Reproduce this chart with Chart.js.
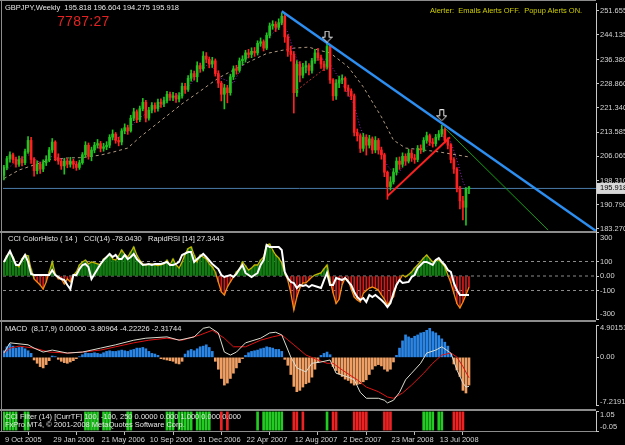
<!DOCTYPE html>
<html><head><meta charset="utf-8">
<script src="https://cdn.jsdelivr.net/npm/chart.js@4.4.0/dist/chart.umd.min.js"></script>
<style>
html,body{margin:0;padding:0;background:#000;}
#wrap{position:relative;width:625px;height:445px;background:#000;overflow:hidden;font-family:'Liberation Sans',Arial,sans-serif;}
canvas{position:absolute;left:0;}
.t{position:absolute;white-space:pre;font-size:7.5px;line-height:10px;color:#e6e6e6;z-index:5;}
.sep{position:absolute;background:#8c8c8c;z-index:4;}
</style></head><body>
<div id="wrap">
<canvas id="cMain" width="625" height="232" style="top:0px"></canvas>
<canvas id="cCci" width="625" height="91" style="top:231px"></canvas>
<canvas id="cMacd" width="625" height="88" style="top:321px"></canvas>
<canvas id="cFilt" width="625" height="36" style="top:409px"></canvas>
<div class="sep" style="left:0;top:0;width:596px;height:1px"></div>
<div class="sep" style="left:1px;top:0;width:1px;height:431px"></div>
<div class="sep" style="left:0;top:231px;width:596px;height:2px"></div>
<div class="sep" style="left:0;top:320px;width:596px;height:2px"></div>
<div class="sep" style="left:0;top:409px;width:596px;height:2px"></div>
<div class="sep" style="left:0;top:431px;width:596px;height:1px"></div>
<div class="t" style="left:5px;top:3px">GBPJPY,Weekly  195.818 196.604 194.275 195.918</div>
<div class="t" style="left:57px;top:13px;font-size:14px;line-height:16px;color:#e42222;letter-spacing:0.3px">7787:27</div>
<div class="t" style="left:430px;top:6px;color:#cccc00">Alerter:  Emails Alerts OFF.  Popup Alerts ON.</div>
<div class="t" style="left:8px;top:234px">CCI ColorHisto ( 14 )   CCI(14) -78.0430   RapidRSI [14] 27.3443</div>
<div class="t" style="left:5px;top:324px">MACD  (8,17,9) 0.00000 -3.80964 -4.22226 -2.31744</div>
<div class="t" style="left:5px;top:412px">CCI Filter (14) [CurrTF] 100, -100, 250 0.0000 0.000 1.000 0.000 0.000</div>
<div class="t" style="left:5px;top:420px">FxPro MT4, © 2001-2008 MetaQuotes Software Corp.</div>
</div>
<script>
// ---------------- DATA ----------------
const dateLabels = ['9 Oct 2005','29 Jan 2006','21 May 2006','10 Sep 2006','31 Dec 2006','22 Apr 2007','12 Aug 2007','2 Dec 2007','23 Mar 2008','13 Jul 2008'];
const dateTickBars = [0,16,32,48,64,80,96,112,128,144];
const priceTicks = [251.655,244.135,236.380,228.860,221.340,213.585,206.065,198.310,190.790,183.270];
const lastPrice = 195.918;

const opens = [200.0,202.5,205.3,206.5,205.0,203.5,205.0,204.0,207.5,211.0,
 205.0,201.5,203.5,202.0,204.0,205.0,208.0,210.5,205.5,204.5,
 203.0,204.5,203.5,204.5,203.5,202.5,204.0,206.5,209.5,206.0,
 208.0,209.5,210.0,208.5,209.0,209.5,212.0,213.0,211.0,210.5,
 214.0,215.0,214.0,218.0,220.0,217.5,221.0,223.0,218.0,220.5,
 222.0,221.0,223.0,222.5,223.5,225.5,224.5,225.0,224.0,225.0,
 228.0,227.0,230.5,232.0,231.0,234.5,233.5,237.5,236.5,235.0,
 236.0,232.0,229.0,225.5,227.5,226.0,231.0,233.5,233.0,236.0,
 236.5,238.5,238.0,239.0,238.5,241.5,242.0,240.0,244.0,247.0,
 247.5,246.5,248.0,250.0,243.5,239.0,238.0,226.0,235.0,231.5,
 234.0,234.5,233.0,236.0,238.5,237.0,235.0,234.0,240.5,230.0,
 225.0,229.0,230.0,230.5,227.5,226.5,225.0,213.5,212.5,208.5,
 212.0,209.5,211.5,208.0,211.0,208.0,206.5,201.0,196.5,198.0,
 201.0,204.5,203.5,206.0,204.5,207.0,205.5,205.0,208.5,208.0,
 211.0,212.5,210.5,210.0,212.0,213.0,214.5,211.0,209.5,205.0,
 202.0,196.0,192.0,190.0,195.818];
const highs = [203.2,206.0,207.4,207.0,205.8,206.1,205.9,208.3,212.2,212.0,
 205.6,204.6,204.2,204.9,206.2,208.8,211.6,210.9,206.8,205.2,
 205.4,205.3,205.7,205.1,204.4,204.8,207.2,210.6,210.2,208.9,
 210.4,211.3,210.7,210.1,210.6,212.8,214.3,213.5,212.0,214.7,
 216.2,215.8,218.9,221.1,220.6,221.8,224.2,223.6,221.4,222.9,
 222.8,224.0,224.1,224.6,226.4,226.2,226.1,225.8,226.0,229.0,
 228.9,231.4,233.1,232.8,235.7,235.3,238.9,238.6,237.2,237.1,
 236.6,232.9,229.6,228.6,228.3,231.8,234.4,234.6,236.9,237.6,
 239.3,239.6,240.1,240.2,242.3,243.2,242.6,244.8,247.9,248.6,
 248.3,249.2,251.1,250.6,244.2,240.6,238.9,236.1,235.8,235.2,
 235.9,235.1,236.8,239.6,239.9,237.8,235.9,241.6,241.0,230.4,
 230.1,231.2,231.6,231.0,228.4,227.2,225.6,214.6,213.1,213.2,
 212.8,212.6,212.1,212.2,211.6,208.9,207.0,201.4,199.6,202.2,
 205.6,205.8,207.1,206.8,208.2,208.1,206.6,209.4,209.6,211.9,
 213.6,213.0,211.6,212.9,214.1,215.8,215.0,211.8,210.0,205.6,
 202.5,196.6,193.4,196.2,196.604];
const lows = [198.6,201.8,204.2,203.9,202.6,202.8,203.0,203.4,206.9,203.8,
 199.8,200.5,200.6,201.2,203.1,204.3,207.2,204.6,203.5,201.9,
 200.4,202.4,202.6,202.2,201.6,201.9,203.5,205.8,205.1,204.6,
 207.1,208.6,207.4,207.6,208.1,208.7,211.2,210.1,209.3,209.6,
 213.1,212.9,213.6,217.2,216.6,216.9,220.3,216.8,217.4,219.6,
 219.9,220.2,221.4,221.6,222.8,223.6,223.5,222.9,223.1,224.3,
 225.8,226.4,229.6,229.9,229.4,232.4,232.8,235.4,233.8,233.9,
 231.2,227.6,223.4,220.9,222.8,225.2,230.1,231.8,232.4,234.8,
 235.6,236.9,237.0,237.4,237.8,240.6,239.1,239.5,243.2,245.9,
 245.2,245.8,247.3,241.8,237.4,235.9,219.6,224.8,229.4,230.6,
 232.2,231.6,232.1,235.2,236.1,233.6,232.9,233.4,228.9,223.6,
 223.9,227.6,228.8,226.4,224.9,223.8,212.4,210.8,207.2,207.6,
 206.4,208.6,206.9,207.1,206.7,205.1,199.6,192.5,195.4,197.3,
 200.2,201.9,202.6,203.2,203.9,204.4,203.8,204.3,206.9,207.4,
 210.1,209.4,208.9,209.2,211.1,212.2,210.2,208.3,203.9,200.6,
 194.8,189.5,186.0,184.4,194.275];
const closes = [202.5,205.3,206.5,205.0,203.5,205.0,204.0,207.5,211.0,205.0,
 201.5,203.5,202.0,204.0,205.0,208.0,210.5,205.5,204.5,203.0,
 204.5,203.5,204.5,203.5,202.5,204.0,206.5,209.5,206.0,208.0,
 209.5,210.0,208.5,209.0,209.5,212.0,213.0,211.0,210.5,214.0,
 215.0,214.0,218.0,220.0,217.5,221.0,223.0,218.0,220.5,222.0,
 221.0,223.0,222.5,223.5,225.5,224.5,225.0,224.0,225.0,228.0,
 227.0,230.5,232.0,231.0,234.5,233.5,237.5,236.5,235.0,236.0,
 232.0,229.0,225.5,227.5,226.0,231.0,233.5,233.0,236.0,236.5,
 238.5,238.0,239.0,238.5,241.5,242.0,240.0,244.0,247.0,247.5,
 246.5,248.0,250.0,243.5,239.0,238.0,226.0,235.0,231.5,234.0,
 234.5,233.0,236.0,238.5,237.0,235.0,234.0,240.5,230.0,225.0,
 229.0,230.0,230.5,227.5,226.5,225.0,213.5,212.5,208.5,212.0,
 209.5,211.5,208.0,211.0,208.0,206.5,201.0,196.5,198.0,201.0,
 204.5,203.5,206.0,204.5,207.0,205.5,205.0,208.5,208.0,211.0,
 212.5,210.5,210.0,212.0,213.0,214.5,211.0,209.5,205.0,202.0,
 196.0,192.0,190.0,195.818,195.918];

// moving averages read at sampled bars [bar, price]
const maSlow = [[0,199.0],[5,201.7],[10,203.3],[15,204.9],[21,205.5],[26,205.6],[32,206.4],[36,207.3],[41,208.6],[45,212.0],[49,215.0],[55,219.5],[59,222.5],[65,226.5],[71,230.6],[76,233.1],[81,235.6],[87,238.3],[91,239.1],[96,240.0],[101,240.3],[104,239.4],[108,238.5],[114,234.1],[119,227.8],[125,218.4],[129,211.1],[133,208.6],[139,208.0],[144,207.4],[154,205.8]];
const maFast = [[0,201],[4,204.5],[8,206.5],[12,204],[16,206],[20,205],[24,203.5],[28,207],[32,209],[36,211],[40,213],[44,217.5],[48,220],[52,222],[56,224.5],[60,226.5],[64,231.5],[68,235.5],[72,230.5],[76,229],[80,236.5],[84,239.5],[88,243.5],[92,248],[94,245],[96,239],[98,234],[100,233],[104,236.5],[107,236.5],[109,233.5],[112,229],[116,222],[118,215],[120,211],[124,209.5],[127,203],[130,200],[134,205],[138,207],[142,211],[145,212.5],[148,210.5],[150,205],[152,198],[154,194]];
// drawn objects [bar, price]
const blueTrend = [[92,251.6],[196,182.6]];
const greenTrend = [[146,214.9],[180.2,182.85]];
const redTrend = [[127,193.5],[147.7,212.0]];
const redDotTrend = [[97,226.8],[107,234.1]];
const arrowMarks = [[107,243.6],[145,218.9]];

// CCI panel
const cciTicks = [300,100,0,-100,-300];
const cciTickLabels = ['300','100','0.00','-100','-300'];
const cciLevels = [100,0,-100];
const cci = [97,140,165,131,80,62,120,145,140,48,
 -21,-41,-62,-90,-41,28,97,14,-20,-20,
 -55,-20,-41,7,28,76,97,110,83,97,
 90,83,76,117,131,152,117,110,140,179,
 150,131,165,200,145,110,83,76,80,83,
 76,72,76,83,110,76,117,76,55,97,
 150,190,200,145,97,145,131,117,83,62,
 28,-41,-110,-131,-76,-41,-7,28,48,97,
 70,41,55,76,76,110,131,214,220,179,
 145,124,90,20,-28,-117,-234,-145,-83,-48,
 -48,-28,-7,7,14,21,50,76,-28,-117,
 -190,-160,-60,-14,-30,-90,-145,-165,-179,-120,
 -100,-83,-76,-85,-97,-130,-160,-200,-170,-145,
 -62,-28,7,-7,10,28,55,76,100,125,
 145,120,97,110,110,90,62,7,-48,-120,
 -190,-220,-179,-131,-78];
const rapidRsi = [[0,97],[2,172],[4,76],[5,76],[7,145],[8,97],[9,14],[10,7],[14,7],[15,7],[16,41],[17,7],[19,-21],[20,-28],[21,-62],[22,-90],[23,7],[24,7],[25,48],[26,76],[27,83],[28,62],[29,-21],[31,48],[32,83],[33,110],[35,152],[36,131],[37,145],[38,117],[39,117],[40,145],[41,117],[42,131],[43,152],[44,117],[45,97],[46,76],[48,83],[49,76],[50,83],[52,83],[54,97],[55,76],[56,76],[57,83],[58,97],[59,145],[61,165],[62,165],[63,97],[64,117],[66,152],[67,131],[69,83],[71,48],[72,7],[73,-7],[75,7],[76,-7],[77,14],[78,48],[79,76],[80,21],[82,-7],[84,21],[85,76],[86,110],[87,214],[88,200],[90,200],[91,200],[92,179],[93,28],[94,-14],[95,-41],[96,-48],[97,-83],[98,-62],[99,-69],[100,-62],[101,-76],[102,-62],[104,-76],[105,-83],[106,-28],[107,21],[108,-62],[109,-62],[110,-14],[112,-28],[113,-14],[115,-62],[116,-110],[117,-145],[118,-166],[119,-152],[120,-179],[121,-131],[122,-145],[123,-131],[125,-166],[126,-186],[127,-214],[128,-186],[129,-117],[130,-62],[131,-28],[132,-48],[134,-41],[135,-7],[136,7],[137,55],[138,76],[139,97],[140,97],[142,76],[143,110],[144,124],[145,97],[146,76],[147,41],[148,28],[149,-48],[150,-97],[151,-131],[152,-131],[154,-131]];

// MACD panel
const macdTicks = [4.90151,0,-7.2191];
const macdTickLabels = ['4.90151','0.00','-7.2191'];
const macdHist = [1.0,1.6,2.0,1.7,1.4,1.5,1.6,1.3,1.0,0.6,
 -0.4,-0.9,-1.4,-1.6,-1.1,-0.5,0.2,0.1,-0.3,-0.6,
 -0.8,-0.9,-0.7,-0.5,-0.2,0.1,0.4,0.7,0.6,0.6,
 0.7,0.6,0.5,0.7,0.9,1.0,0.9,0.9,1.0,1.1,
 1.0,0.9,1.1,1.2,1.4,1.4,1.5,1.3,0.9,0.6,
 0.5,0.3,-0.2,-0.3,-0.4,-0.5,-0.6,-0.9,-1.0,-0.6,
 0.5,1.0,1.2,1.0,1.3,1.6,1.7,1.9,1.5,0.9,
 -0.6,-1.8,-3.2,-4.2,-3.9,-3.2,-2.4,-1.6,-0.8,-0.2,
 0.3,0.7,0.9,1.0,1.1,1.3,1.4,1.6,1.5,1.4,
 1.2,1.2,0.9,-0.3,-1.2,-2.6,-4.4,-5.2,-5.0,-4.5,
 -4.0,-3.8,-3.0,-1.8,-0.8,0.3,0.6,0.8,0.4,-1.4,
 -2.0,-2.5,-2.9,-3.3,-3.5,-3.9,-4.2,-4.1,-4.0,-3.7,
 -3.4,-2.6,-1.8,-1.3,-1.1,-1.3,-1.8,-2.1,-1.8,-0.7,
 0.3,1.4,2.5,3.4,3.1,2.9,3.2,3.4,3.7,3.8,
 4.1,4.4,3.9,3.7,3.3,2.8,2.3,1.7,0.6,-1.0,
 -1.9,-2.9,-5.0,-5.4,-4.2];
const macdMain = [[0,0.65],[2,2.2],[8,1.9],[10,1.4],[13,0.8],[16,1.1],[21,0.65],[26,0.8],[32,1.4],[37,1.9],[43,2.6],[47,2.9],[54,3.1],[58,2.6],[63,3.1],[66,4.4],[68,4.6],[71,3.7],[73,0.8],[75,0.35],[77,0.8],[80,2.2],[85,2.9],[88,3.7],[90,3.8],[92,3.4],[95,0.05],[97,-1.6],[100,-2.2],[102,-0.9],[105,-0.7],[108,-0.4],[110,-2.4],[114,-3.0],[116,-3.4],[118,-5.3],[120,-6.2],[124,-6.2],[126,-6.5],[127,-6.9],[129,-6.5],[131,-5.3],[133,-3.4],[135,-2.4],[138,-0.9],[140,0.65],[143,1.1],[145,1.6],[148,0.65],[150,-1.9],[152,-3.9],[153,-4.5],[154,-4.4]];
const macdSignal = [[0,0.65],[2,1.4],[5,1.7],[10,1.4],[15,0.8],[21,0.65],[26,0.8],[32,1.1],[37,1.6],[43,2.2],[48,2.6],[54,2.9],[59,2.6],[65,3.4],[69,4.1],[73,2.9],[76,1.6],[80,1.6],[85,2.6],[89,3.1],[92,3.4],[96,1.9],[100,0.35],[104,-0.4],[107,-0.9],[109,-0.9],[112,-1.9],[117,-3.4],[120,-4.5],[124,-5.2],[127,-6.0],[129,-6.2],[132,-5.4],[135,-4.2],[139,-2.4],[142,-0.9],[145,0.35],[148,0.65],[150,0.05],[152,-1.4],[154,-3.1]];

// CCI Filter panel: 1 = green, -1 = red, 0 = none
const filterTicks = [1.05,-0.05];
const filterTickLabels = ['1.05','-0.05'];
const filterState = [1,1,1,1,1,0,0,1,1,0,
 0,0,0,0,0,0,0,0,0,0,
 0,0,0,0,0,0,0,1,1,1,
 1,1,0,1,1,1,0,0,0,0,
 0,1,1,0,0,0,0,0,0,0,
 0,0,0,0,1,1,1,0,1,1,
 1,1,1,0,1,1,1,1,1,0,
 0,0,-1,0,-1,0,0,0,0,0,
 0,0,0,0,1,0,1,1,1,1,
 1,1,1,0,0,0,-1,-1,0,-1,
 0,0,0,0,0,0,0,1,0,-1,
 -1,0,0,0,0,0,-1,-1,-1,-1,
 -1,0,0,0,0,0,-1,-1,-1,0,
 0,0,0,0,0,0,0,0,0,1,
 1,1,1,0,1,1,0,0,0,-1,
 -1,-1,-1,0,0];

// ---------------- STYLE / HELPERS ----------------
const X_MIN = -0.3, X_MAX = 196.06, AXIS_W = 29;
const AX = '#d4d4d4';
Chart.defaults.font.family = "'Liberation Sans', Arial, sans-serif";
Chart.defaults.font.size = 7.5;
Chart.defaults.color = AX;
const pts = arr => arr.map(([x,y]) => ({x, y}));
const bars = closes.map((_, i) => i);

function xScale(show){
  return {type:'linear', min:X_MIN, max:X_MAX, offset:false, display:show, position:'bottom',
    grid:{display:show, drawOnChartArea:false, drawTicks:true, tickLength:4, color:'#bbbbbb'},
    border:{display:false},
    afterBuildTicks: s => { s.ticks = dateTickBars.map(v => ({value:v})); },
    afterFit: s => { s.height = show ? 14 : 0; s.paddingLeft = 0; s.paddingRight = 0; },
    ticks:{autoSkip:false, maxRotation:0, align:'start', padding:0, labelOffset:1, color:AX,
      callback:(v, i) => dateLabels[i]}
  };
}
function yScale(min, max, tickVals, labelFn, lineH, extra){
  return Object.assign({position:'right', min, max,
    afterBuildTicks: s => { s.ticks = tickVals.slice().sort((a,b)=>a-b).map(v => ({value:v})); },
    afterFit: s => { s.width = AXIS_W; s.paddingTop = 0; s.paddingBottom = 0; },
    grid:{drawOnChartArea:false, drawTicks:true, tickLength:3, color:'#c8c8c8'},
    border:{display:true, color:'#c8c8c8', width:1},
    ticks:{autoSkip:false, padding:1, color:AX, font:{size:7.5, lineHeight:lineH}, callback:labelFn}
  }, extra || {});
}
function edgeLabel(tickVals, labels){
  const top = Math.max(...tickVals), bot = Math.min(...tickVals);
  return (v) => {
    const k = tickVals.indexOf(v); const t = labels[k];
    if (v === top) return ['', t];
    if (v === bot) return [t, ''];
    return t;
  };
}
function lineDs(data, color, width, order, dash){
  return {type:'line', data, borderColor:color, borderWidth:width, pointRadius:0, fill:false,
    tension:0, order, borderDash:dash || [], spanGaps:true};
}
const baseOpts = (pad) => ({responsive:false, animation:false, events:[],
  layout:{padding:pad, autoPadding:false}, plugins:{legend:{display:false}, tooltip:{enabled:false}}});

function makeArrow(){
  const c = document.createElement('canvas'); c.width = 11; c.height = 12;
  const g = c.getContext('2d'); g.strokeStyle = '#e8e8e8'; g.lineWidth = 1;
  g.beginPath(); g.moveTo(3.5,0.5); g.lineTo(7.5,0.5); g.lineTo(7.5,6.5); g.lineTo(10.5,6.5);
  g.lineTo(5.5,11.5); g.lineTo(0.5,6.5); g.lineTo(3.5,6.5); g.closePath(); g.stroke();
  return c;
}

// ---------------- MAIN PRICE CHART ----------------
const UP = '#1fc41f', DN = '#ff2020';
const candleCol = bars.map(i => closes[i] >= opens[i] ? UP : DN);
const mainY = yScale(182.547, 254.168, priceTicks.concat([lastPrice]), v => v.toFixed(3), 1.2, {});
mainY.ticks.color = ctx => (ctx.tick && ctx.tick.value === lastPrice) ? '#000000' : AX;
mainY.ticks.showLabelBackdrop = ctx => !!(ctx.tick && ctx.tick.value === lastPrice);
mainY.ticks.backdropColor = '#d8d8d8';
mainY.ticks.backdropPadding = {left:3, right:6, top:1, bottom:1};
new Chart(document.getElementById('cMain'), {
  type:'bar',
  data:{datasets:[
    lineDs([{x:X_MIN,y:lastPrice},{x:X_MAX,y:lastPrice}], '#4a7cab', 1, 20),
    lineDs(pts(maSlow), '#b09a80', 1, 15, [3,3]),
    lineDs(pts(maFast), '#9a22c8', 1, 14, [1,2]),
    {type:'bar', data:bars.map(i => ({x:i, y:[lows[i], highs[i]]})), backgroundColor:candleCol,
      barThickness:1, grouped:false, order:12, borderWidth:0},
    {type:'bar', data:bars.map(i => ({x:i, y:[opens[i], closes[i]]})), backgroundColor:candleCol,
      barThickness:2, grouped:false, order:11, borderWidth:0, minBarLength:1},
    lineDs(pts(redDotTrend), '#c03030', 1, 6, [2,2]),
    lineDs(pts(redTrend), '#ff2020', 2, 5),
    lineDs(pts(greenTrend), '#10a010', 1, 4),
    lineDs(pts(blueTrend), '#2b8ef0', 2.5, 3),
    {type:'scatter', data:pts(arrowMarks), pointStyle:makeArrow(), pointRadius:6, order:1, showLine:false}
  ]},
  options:Object.assign(baseOpts({left:3, top:3, right:0, bottom:1}), {
    scales:{ x:xScale(false), y:mainY }
  })
});

// ---------------- CCI PANEL ----------------
new Chart(document.getElementById('cCci'), {
  type:'bar',
  data:{datasets:[
    ...cciLevels.map(l => lineDs([{x:X_MIN,y:l},{x:X_MAX,y:l}], '#8c8c8c', 1, 20, [3,3])),
    {type:'bar', data:bars.map(i => ({x:i, y: cci[i] > 0 ? cci[i] : null})), backgroundColor:'#127c12',
      barThickness:2, grouped:false, order:12, borderWidth:0},
    {type:'bar', data:bars.map(i => ({x:i, y: cci[i] < 0 ? cci[i] : null})), backgroundColor:'#d81a1a',
      barThickness:1, grouped:false, order:11, borderWidth:0},
    Object.assign(lineDs(bars.map(i => ({x:i, y:cci[i]})), '#c8b400', 1.3, 5), {
      segment:{borderColor: c => (c.p0.parsed.y + c.p1.parsed.y) / 2 < 0 ? '#f08c10' : '#c8b400'}}),
    lineDs(pts(rapidRsi), '#ffffff', 2, 3)
  ]},
  options:Object.assign(baseOpts({left:3, top:1.5, right:0, bottom:2.5}), {
    scales:{x:xScale(false), y:yScale(-300, 300, cciTicks, edgeLabel(cciTicks, cciTickLabels), '11px')}
  })
});

// ---------------- MACD PANEL ----------------
new Chart(document.getElementById('cMacd'), {
  type:'bar',
  data:{datasets:[
    {type:'bar', data:bars.map(i => ({x:i, y: macdHist[i] > 0 ? macdHist[i] : null})), backgroundColor:'#2a86e6',
      barThickness:2, grouped:false, order:12, borderWidth:0},
    {type:'bar', data:bars.map(i => ({x:i, y: macdHist[i] < 0 ? macdHist[i] : null})), backgroundColor:'#f0a064',
      barThickness:2, grouped:false, order:11, borderWidth:0},
    lineDs(pts(macdSignal), '#dd1414', 1, 4),
    lineDs(pts(macdMain), '#dcdcd0', 1, 3)
  ]},
  options:Object.assign(baseOpts({left:3, top:4, right:0, bottom:4}), {
    scales:{x:xScale(false), y:yScale(-7.2191, 4.90151, macdTicks, edgeLabel(macdTicks, macdTickLabels), '6px')}
  })
});

// ---------------- CCI FILTER PANEL + DATE AXIS ----------------
new Chart(document.getElementById('cFilt'), {
  type:'bar',
  data:{datasets:[
    {type:'bar', data:bars.map(i => ({x:i, y: filterState[i] !== 0 ? Math.abs(filterState[i]) : null})),
      backgroundColor:bars.map(i => filterState[i] > 0 ? '#22cc22' : '#ee2222'),
      barThickness:2, grouped:false, borderWidth:0}
  ]},
  options:Object.assign(baseOpts({left:3, top:2, right:0, bottom:0}), {
    scales:{x:xScale(true), y:yScale(-0.05, 1.05, filterTicks, edgeLabel(filterTicks, filterTickLabels), '8px')}
  })
});
</script>
</body></html>
